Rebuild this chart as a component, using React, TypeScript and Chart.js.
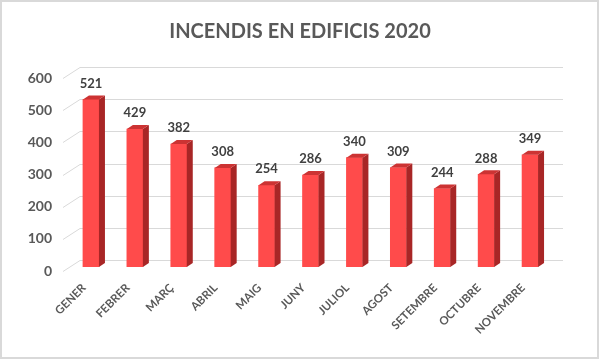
import { useEffect, useRef } from "react";
import { Chart, registerables } from "chart.js";

Chart.register(...registerables);

const months = ["GENER", "FEBRER", "MARÇ", "ABRIL", "MAIG", "JUNY", "JULIOL", "AGOST", "SETEMBRE", "OCTUBRE", "NOVEMBRE"];
const incendis = [521, 429, 382, 308, 254, 286, 340, 309, 244, 288, 349];
const yTickValues = [0, 100, 200, 300, 400, 500, 600];
const chartTitle = "INCENDIS EN EDIFICIS 2020";

const FONT = "Lato, 'Noto Sans', sans-serif";

const threeD = {
  id: "threeD",
  beforeDatasetsDraw(chart: any) {
    const { ctx, chartArea, scales } = chart;
    const ys = scales.y;
    ctx.save();
    ctx.strokeStyle = "#d9d9d9";
    ctx.lineWidth = 1;
    yTickValues.forEach((v) => {
      const y = Math.round(ys.getPixelForValue(v)) + 0.5;
      ctx.beginPath();
      ctx.moveTo(chartArea.left - 6, y + 4);
      ctx.lineTo(chartArea.left + 11, y - 7);
      ctx.lineTo(chartArea.right + 11, y - 7);
      ctx.stroke();
    });
    ctx.restore();
  },
  afterDatasetsDraw(chart: any) {
    const { ctx } = chart;
    const meta = chart.getDatasetMeta(0);
    const dx = 6;
    const dy = 4;
    ctx.save();
    meta.data.forEach((bar: any, i: number) => {
      const { x, y, base, width } = bar.getProps(["x", "y", "base", "width"], true);
      const xl = x - width / 2;
      const xr = x + width / 2;
      ctx.fillStyle = "#a82626";
      ctx.beginPath();
      ctx.moveTo(xr, y);
      ctx.lineTo(xr + dx, y - dy);
      ctx.lineTo(xr + dx, base - dy);
      ctx.lineTo(xr, base);
      ctx.closePath();
      ctx.fill();
      ctx.fillStyle = "#cc3333";
      ctx.beginPath();
      ctx.moveTo(xl, y);
      ctx.lineTo(xl + dx, y - dy);
      ctx.lineTo(xr + dx, y - dy);
      ctx.lineTo(xr, y);
      ctx.closePath();
      ctx.fill();
      ctx.fillStyle = "#404040";
      ctx.font = `bold 13px ${FONT}`;
      ctx.textAlign = "center";
      ctx.textBaseline = "middle";
      ctx.fillText(String(incendis[i]), x, y - 16);
    });
    ctx.restore();
  },
  afterDraw(chart: any) {
    const { ctx, width } = chart;
    ctx.save();
    ctx.fillStyle = "#595959";
    ctx.font = `bold 20px ${FONT}`;
    ctx.textAlign = "center";
    ctx.textBaseline = "middle";
    ctx.fillText(chartTitle, width / 2, 32);
    ctx.restore();
  },
};

export default function App() {
  const ref = useRef<HTMLCanvasElement | null>(null);
  useEffect(() => {
    if (!ref.current) return;
    const chart = new Chart(ref.current, {
      type: "bar",
      data: {
        labels: months,
        datasets: [
          {
            data: incendis,
            backgroundColor: "#ff4b4b",
            borderWidth: 0,
            barThickness: 16,
          },
        ],
      },
      options: {
        responsive: false,
        animation: false,
        layout: { padding: { left: 0, right: 48, top: 74, bottom: 0 } },
        plugins: {
          legend: { display: false },
          tooltip: { enabled: false },
          title: { display: false },
        },
        scales: {
          x: {
            grid: { display: false, drawTicks: false },
            border: { display: false },
            ticks: {
              autoSkip: false,
              maxRotation: 45,
              minRotation: 45,
              padding: 14,
              labelOffset: -7,
              color: "#595959",
              font: { family: FONT, size: 11.5, weight: "bold" },
            },
            afterFit: (s: any) => {
              s.height = 93;
            },
          },
          y: {
            min: 0,
            max: 600,
            grid: { display: false, drawTicks: false },
            border: { display: false },
            ticks: {
              stepSize: 100,
              padding: 17,
              labelOffset: 4,
              color: "#595959",
              font: { family: FONT, size: 14, weight: "bold" },
            },
            afterFit: (s: any) => {
              s.width = 69;
            },
          },
        },
      },
      plugins: [threeD],
    } as any);
    return () => chart.destroy();
  }, []);
  return (
    <div style={{ position: "fixed", left: 0, top: 0, width: 600, height: 360, background: "#fff" }}>
      <canvas ref={ref} width={600} height={360} style={{ display: "block", width: 600, height: 360 }} />
      <div
        style={{
          position: "absolute",
          left: 0,
          top: 0,
          width: 599,
          height: 359,
          border: "2px solid #d9d9d9",
          boxSizing: "border-box",
          pointerEvents: "none",
        }}
      />
    </div>
  );
}
